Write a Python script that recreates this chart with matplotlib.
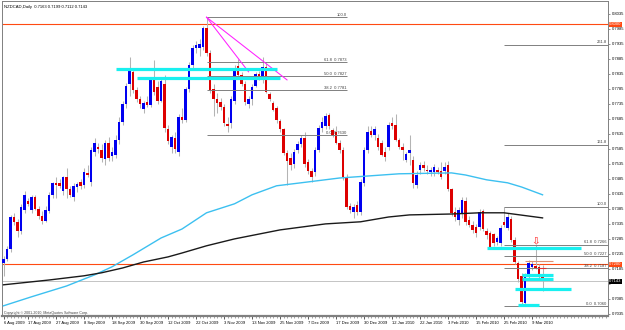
import numpy as np
import pandas as pd
import matplotlib
matplotlib.use("Agg")
import matplotlib.pyplot as plt
from matplotlib.patches import Rectangle

plt.rcParams["font.family"] = ["Liberation Sans", "DejaVu Sans"]

symbol = "NZDCAD,Daily"
first_day = "2009-08-06"
holidays = ["2009-12-25", "2010-01-01"]

# daily bars 6 Aug 2009 .. 12 Mar 2010
opens = [
    .7205, .7218, .7250, .7358, .7340, .7312, .7380, .7412, .7380, .7425,
    .7385, .7362, .7345, .7378, .7430, .7470, .7472, .7445, .7490, .7450,
    .7425, .7458, .7475, .7465, .7505, .7475, .7575, .7590, .7582, .7550,
    .7605, .7560, .7565, .7615, .7675, .7735, .7800, .7840, .7780, .7750,
    .7718, .7740, .7732, .7815, .7790, .7745, .7800, .7650, .7590, .7620,
    .7575, .7690, .7680, .7785, .7865, .7922, .7920, .7925, .7988, .7905,
    .7785, .7750, .7740, .7725, .7668, .7670, .7745, .7860, .7830, .7800,
    .7735, .7750, .7795, .7835, .7815, .7858, .7768, .7738, .7720, .7678,
    .7650, .7572, .7555, .7535, .7580, .7600, .7620, .7540, .7510, .7508,
    .7580, .7655, .7660, .7698, .7648, .7640, .7605, .7582, .7490, .7395,
    .7375, .7398, .7375, .7470, .7580, .7645, .7630, .7620, .7605, .7575,
    .7590, .7672, .7665, .7615, .7592, .7548, .7570, .7548, .7465, .7515,
    .7532, .7515, .7508, .7508, .7515, .7510, .7510, .7530, .7450, .7375,
    .7348, .7370, .7410, .7348, .7332, .7325, .7325, .7378, .7310, .7305,
    .7300, .7275, .7272, .7340, .7322, .7352, .7282, .7205, .7160, .7070,
    .7160, .7190, .7195, .7190, .7163]
highs = [
    .7228, .7260, .7365, .7370, .7350, .7400, .7445, .7420, .7432, .7430,
    .7395, .7378, .7395, .7440, .7475, .7490, .7485, .7495, .7520, .7460,
    .7470, .7475, .7485, .7520, .7530, .7590, .7620, .7605, .7600, .7615,
    .7625, .7590, .7630, .7690, .7745, .7805, .7890, .7855, .7790, .7760,
    .7745, .7760, .7820, .7880, .7810, .7825, .7830, .7665, .7630, .7640,
    .7700, .7720, .7790, .7875, .7930, .7945, .7950, .7995, .8024, .7915,
    .7800, .7770, .7755, .7735, .7690, .7760, .7865, .7885, .7840, .7810,
    .7760, .7800, .7840, .7845, .7890, .7870, .7775, .7745, .7728, .7685,
    .7655, .7580, .7570, .7585, .7610, .7630, .7640, .7550, .7520, .7590,
    .7665, .7690, .7705, .7705, .7655, .7660, .7615, .7590, .7500, .7405,
    .7400, .7410, .7485, .7590, .7660, .7660, .7660, .7635, .7615, .7590,
    .7675, .7690, .7700, .7620, .7605, .7575, .7630, .7560, .7510, .7540,
    .7545, .7530, .7525, .7535, .7525, .7540, .7540, .7545, .7455, .7390,
    .7390, .7425, .7425, .7360, .7345, .7335, .7385, .7385, .7320, .7310,
    .7305, .7295, .7330, .7392, .7370, .7360, .7290, .7210, .7170, .7170,
    .7215, .7210, .7265, .7200, .7199]
lows = [
    .7160, .7210, .7240, .7330, .7290, .7300, .7370, .7395, .7370, .7380,
    .7350, .7335, .7340, .7370, .7420, .7420, .7455, .7430, .7420, .7425,
    .7410, .7440, .7450, .7455, .7490, .7460, .7560, .7570, .7540, .7530,
    .7545, .7545, .7555, .7600, .7665, .7720, .7760, .7770, .7740, .7720,
    .7705, .7725, .7725, .7765, .7735, .7740, .7640, .7600, .7570, .7570,
    .7560, .7670, .7675, .7775, .7850, .7905, .7895, .7915, .7895, .7770,
    .7695, .7705, .7715, .7660, .7640, .7655, .7735, .7820, .7795, .7730,
    .7720, .7730, .7790, .7815, .7805, .7770, .7745, .7710, .7670, .7640,
    .7565, .7465, .7515, .7520, .7570, .7590, .7525, .7500, .7475, .7495,
    .7575, .7640, .7650, .7650, .7625, .7600, .7570, .7480, .7385, .7370,
    .7355, .7365, .7365, .7460, .7570, .7625, .7615, .7580, .7560, .7545,
    .7580, .7650, .7610, .7585, .7548, .7540, .7530, .7455, .7455, .7500,
    .7510, .7500, .7495, .7495, .7500, .7485, .7500, .7445, .7360, .7345,
    .7330, .7355, .7330, .7325, .7305, .7290, .7315, .7310, .7285, .7250,
    .7262, .7265, .7262, .7325, .7315, .7275, .7200, .7140, .7060, .7060,
    .7150, .7180, .7185, .7150, .7112]
closes = [
    .7218, .7250, .7358, .7340, .7312, .7390, .7430, .7400, .7425, .7385,
    .7360, .7345, .7380, .7432, .7470, .7465, .7462, .7490, .7450, .7432,
    .7460, .7468, .7462, .7508, .7498, .7582, .7605, .7585, .7555, .7605,
    .7555, .7575, .7615, .7675, .7735, .7795, .7845, .7780, .7750, .7735,
    .7738, .7732, .7815, .7775, .7745, .7810, .7655, .7612, .7625, .7585,
    .7690, .7680, .7785, .7865, .7920, .7932, .7935, .7988, .7905, .7782,
    .7750, .7738, .7725, .7670, .7660, .7750, .7855, .7830, .7800, .7740,
    .7750, .7790, .7835, .7822, .7858, .7775, .7750, .7715, .7680, .7650,
    .7572, .7545, .7530, .7575, .7600, .7620, .7535, .7510, .7492, .7580,
    .7655, .7675, .7695, .7660, .7632, .7605, .7582, .7492, .7392, .7380,
    .7392, .7375, .7475, .7580, .7640, .7632, .7650, .7592, .7565, .7558,
    .7665, .7660, .7615, .7592, .7582, .7568, .7580, .7472, .7498, .7530,
    .7520, .7510, .7515, .7525, .7508, .7492, .7525, .7452, .7370, .7358,
    .7382, .7415, .7342, .7332, .7315, .7305, .7375, .7318, .7298, .7258,
    .7272, .7288, .7322, .7332, .7358, .7282, .7208, .7150, .7075, .7160,
    .7205, .7200, .7188, .7160, .7143]

# moving averages, read at a few days
ma_fast_days = ["2009-08-06", "2009-08-18", "2009-09-01", "2009-09-11", "2009-09-18",
                "2009-09-28", "2009-10-08", "2009-10-16", "2009-10-27", "2009-11-06",
                "2009-11-13", "2009-11-24", "2009-12-03", "2009-12-18", "2010-01-14",
                "2010-02-04", "2010-02-10", "2010-02-18", "2010-02-26", "2010-03-04",
                "2010-03-12"]
ma_fast = [.7062, .7092, .7128, .7165, .7192, .7232, .7288, .7318, .7372, .7402,
           .7432, .7462, .7472, .7488, .7502, .7505, .7498, .7482, .7472, .7458, .7432]
ma_slow_days = ["2009-08-06", "2009-08-25", "2009-09-08", "2009-09-15", "2009-09-23",
                "2009-10-01", "2009-10-12", "2009-10-16", "2009-10-27", "2009-11-06",
                "2009-11-25", "2009-12-14", "2009-12-29", "2010-01-11", "2010-01-19",
                "2010-02-04", "2010-02-16", "2010-02-25", "2010-03-12"]
ma_slow = [.7132, .7148, .7162, .7172, .7188, .7208, .7225, .7238, .7262, .7285,
           .7315, .7335, .7342, .7358, .7365, .7368, .7372, .7372, .7355]

orange_levels = [0.8000, 0.7200]
bid = 0.7143

# fibo retracements: (start, end, 0% price, 100% price)
fib_top = ("2009-10-27", "2009-12-22", 0.7630, 0.8024)
fib_top_ratios = [0.0, 0.382, 0.5, 0.618, 1.0]
fib_low = ("2010-02-25", None, 0.7060, 0.7393)
fib_low_ratios = [0.0, 0.382, 0.5, 0.618, 1.0, 1.618, 2.618]

trend_start = ("2009-10-27", 0.8024)
trend_ends = [("2009-11-12", 0.7842), ("2009-11-27", 0.7815)]

# cyan zones: (from, to, price)
zones = [("2009-09-21", "2009-11-24", 0.7852),
         ("2009-09-29", "2009-11-25", 0.7822),
         ("2010-02-18", "2010-03-29", 0.7255),
         ("2010-03-04", "2010-03-17", 0.7165),
         ("2010-03-04", "2010-03-17", 0.7152),
         ("2010-03-02", "2010-03-24", 0.7118),
         ("2010-03-03", "2010-03-11", 0.7065)]
short_lines = [("2010-03-05", "2010-03-17", 0.7212, "#e09070"),
               ("2010-03-11", "2010-03-15", 0.7188, "#e03030")]
arrow_day, arrow_price = "2010-03-10", 0.7265

date_labels = ["6 Aug 2009", "17 Aug 2009", "27 Aug 2009", "8 Sep 2009", "18 Sep 2009",
               "30 Sep 2009", "12 Oct 2009", "22 Oct 2009", "3 Nov 2009", "13 Nov 2009",
               "25 Nov 2009", "7 Dec 2009", "17 Dec 2009", "30 Dec 2009", "12 Jan 2010",
               "22 Jan 2010", "3 Feb 2010", "15 Feb 2010", "25 Feb 2010", "9 Mar 2010"]

BLUE, RED, WICK = "#0000f0", "#dd0000", "#b4b4b4"
ORANGE, GRAY = "#ff4a12", "#808080"
FS = 3.0

days = pd.bdate_range(first_day, "2010-05-31")
days = days[~days.isin(pd.to_datetime(holidays))]
assert len(opens) == len(highs) == len(lows) == len(closes)
n = len(closes)


def xi(day):
    return days.get_loc(pd.Timestamp(day))


fig = plt.figure(figsize=(6.25, 3.3), dpi=100)
ax = fig.add_axes([2 / 625, 14 / 330, 606 / 625, 315 / 330])
x_left, x_right = -0.43, 172.7
ax.set_xlim(x_left, x_right)
ax.set_ylim(0.7028, 0.8078)

# candles
xs = np.arange(n)
ax.vlines(xs, lows, highs, color=WICK, lw=0.75, zorder=3)
for i in range(n):
    o, c = opens[i], closes[i]
    ax.add_patch(Rectangle((i - 0.38, min(o, c)), 0.76, max(abs(c - o), 0.00012),
                           facecolor=BLUE if c >= o else RED, edgecolor="none", zorder=4))

# moving averages
ax.plot([xi(d) for d in ma_fast_days], ma_fast, color="#3cc0f0", lw=1.0, zorder=5)
ax.plot([xi(d) for d in ma_slow_days], ma_slow, color="#1a1a1a", lw=1.0, zorder=5)

# horizontal lines
for p in orange_levels:
    ax.axhline(p, color=ORANGE, lw=0.8, zorder=2)
ax.axhline(bid, color="#c4c4c4", lw=0.7, zorder=2)

# fibonacci
d0, d1, lo, hi = fib_top
for r in fib_top_ratios:
    p = lo + r * (hi - lo)
    ax.hlines(p, xi(d0), xi(d1), color=GRAY, lw=0.7, zorder=6)
    lab = f"{r * 100:.1f}" + (f"  {p:.4f}" if r < 0.7 else "")
    ax.text(xi(d1), p + 0.0002, lab, ha="right", va="bottom", fontsize=FS,
            color="#404040", zorder=7)

d0, _, lo, hi = fib_low
for r in fib_low_ratios:
    p = lo + r * (hi - lo)
    ax.hlines(p, xi(d0), x_right, color=GRAY, lw=0.7, zorder=6)
    lab = f"{r * 100:.1f}" + (f"  {p:.4f}" if r < 0.7 else "")
    ax.text(x_right - 0.4, p + 0.0002, lab, ha="right", va="bottom", fontsize=FS,
            color="#404040", zorder=7)

# trend lines
for d, p in trend_ends:
    ax.plot([xi(trend_start[0]), xi(d)], [trend_start[1], p], color="#ff20ff", lw=0.75, zorder=6)

# zones
for d0, d1, p in zones:
    ax.hlines(p, xi(d0), xi(d1), color="#18f0f0", lw=2.3, zorder=6)
for d0, d1, p, col in short_lines:
    ax.hlines(p, xi(d0), xi(d1), color=col, lw=0.8, zorder=6)

ax.text(xi(arrow_day), arrow_price, "\u21e9", ha="center", va="bottom", fontsize=7.5,
        color="#ff5050", family="DejaVu Sans", fontweight="bold", zorder=8)

# axes styling; scale labels hidden behind the bid box are dropped
ax.yaxis.tick_right()
yt = np.arange(0.7035, 0.80351, 0.005)
ax.set_yticks(yt)
ax.set_yticklabels(["" if abs(v - bid) < 0.0012 else f"{v:.4f}" for v in yt])
ax.tick_params(axis="y", length=1.5, width=0.6, color=GRAY, labelsize=FS, pad=1)

ax.set_xticks([xi(d) for d in date_labels])
ax.set_xticklabels(date_labels)
for t in ax.get_xticklabels():
    t.set_ha("left")
ax.set_xticks(np.arange(0, 173, 1), minor=True)
ax.tick_params(axis="x", which="major", length=2.5, width=0.6, color="#404040",
               labelsize=FS, pad=1)
ax.tick_params(axis="x", which="minor", length=1.2, width=0.5, color=GRAY)

for s in ax.spines.values():
    s.set_color(GRAY)
    s.set_linewidth(0.7)
ax.spines["bottom"].set_linewidth(1.6)

# price labels on the scale
trans = ax.get_yaxis_transform()
for p in orange_levels:
    ax.text(1.002, p, f"{p:.4f}", transform=trans, fontsize=FS, color="white",
            va="center", ha="left", clip_on=False, zorder=10,
            bbox=dict(boxstyle="square,pad=0.15", fc=ORANGE, ec="none"))
ax.text(1.002, bid, f"{bid:.4f}", transform=trans, fontsize=FS, color="white",
        va="center", ha="left", clip_on=False, zorder=10,
        bbox=dict(boxstyle="square,pad=0.15", fc="black", ec="none"))

ax.text(0.004, 0.988, f"{symbol}  {opens[-1]:.4f} {highs[-1]:.4f} {lows[-1]:.4f} {closes[-1]:.4f}",
        transform=ax.transAxes, fontsize=FS, va="top", ha="left", color="black")
ax.text(0.003, 0.004, "Copyright \u00a9 2001-2010, MetaQuotes Software Corp.",
        transform=ax.transAxes, fontsize=2.6, va="bottom", ha="left", color="#404040")

fig.savefig("out.png", dpi=100)
